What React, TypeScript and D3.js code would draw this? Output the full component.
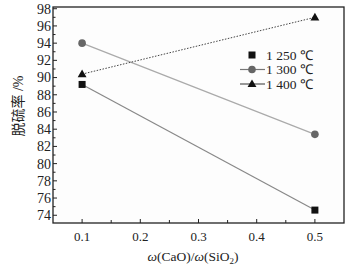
import React from "react";
import * as d3 from "d3";

const xValues = [0.1, 0.5];
const s1250 = [89.2, 74.6];
const s1300 = [94.0, 83.4];
const s1400 = [90.4, 97.0];
const seriesNames = ["1 250 ℃", "1 300 ℃", "1 400 ℃"];
const yMajorTicks = [74, 76, 78, 80, 82, 84, 86, 88, 90, 92, 94, 96, 98];
const yMinorTicks = [75, 77, 79, 81, 83, 85, 87, 89, 91, 93, 95, 97];
const xMajorTicks = [0.1, 0.2, 0.3, 0.4, 0.5];
const xMinorTicks = [0.15, 0.25, 0.35, 0.45];

const W = 349, H = 267;
const L = 53, R = 344, T = 7, B = 223;

const serif = { fontFamily: '"Liberation Serif", Tinos, "Times New Roman", Times, serif' };

export default function App() {
  const x = d3.scaleLinear().domain([0.05, 0.55]).range([L, R]);
  const y = d3.scaleLinear().domain([73.1, 98.2]).range([B, T]);
  const line = d3.line<number>().x((_, i) => x(xValues[i])).y((d) => y(d));

  const sq = (cx: number, cy: number, k: string) => (
    <rect key={k} x={cx - 3.5} y={cy - 3.5} width={7} height={7} fill="#111" />
  );
  const ci = (cx: number, cy: number, k: string) => (
    <circle key={k} cx={cx} cy={cy} r={3.8} fill="#666" />
  );
  const tri = (cx: number, cy: number, k: string) => (
    <path key={k} d={d3.symbol(d3.symbolTriangle, 34)() || ""} transform={`translate(${cx},${cy + 0.5})`} fill="#111" />
  );

  return (
    <svg width={W} height={H} style={{ position: "absolute", left: 0, top: 0, background: "#fff" }}>
      <rect x={L} y={T} width={R - L} height={B - T} fill="#fdfdfd" stroke="#222" strokeWidth={1.3} />
      {yMajorTicks.map((t) => (
        <g key={"ym" + t}>
          <line x1={L} x2={L + 4} y1={y(t)} y2={y(t)} stroke="#222" strokeWidth={1} />
          <text x={L - 2} y={y(t)} dy="0.35em" textAnchor="end" style={serif} fontSize={14} fill="#222">{t}</text>
        </g>
      ))}
      {yMinorTicks.map((t) => (
        <line key={"yn" + t} x1={L} x2={L + 2.5} y1={y(t)} y2={y(t)} stroke="#222" strokeWidth={1} />
      ))}
      {xMajorTicks.map((t) => (
        <g key={"xm" + t}>
          <line x1={x(t)} x2={x(t)} y1={B} y2={B - 4} stroke="#222" strokeWidth={1} />
          <text x={x(t)} y={236} dy="0.35em" textAnchor="middle" style={serif} fontSize={13} fill="#222">{t.toFixed(1)}</text>
        </g>
      ))}
      {xMinorTicks.map((t) => (
        <line key={"xn" + t} x1={x(t)} x2={x(t)} y1={B} y2={B - 3} stroke="#222" strokeWidth={1} />
      ))}
      <path d={line(s1250) || ""} fill="none" stroke="#888" strokeWidth={1.2} />
      <path d={line(s1300) || ""} fill="none" stroke="#aaa" strokeWidth={1.2} />
      <path d={line(s1400) || ""} fill="none" stroke="#444" strokeWidth={1} strokeDasharray="1.5,1.5" />
      {s1250.map((v, i) => sq(x(xValues[i]), y(v), "a" + i))}
      {s1300.map((v, i) => ci(x(xValues[i]), y(v), "b" + i))}
      {s1400.map((v, i) => tri(x(xValues[i]), y(v), "c" + i))}
      {sq(252, 55, "la")}
      <line x1={240} x2={265} y1={69.5} y2={69.5} stroke="#777" strokeWidth={1.2} />
      {ci(252, 69.5, "lb")}
      <line x1={240} x2={265} y1={84} y2={84} stroke="#555" strokeWidth={1.2} />
      {tri(252, 84, "lc")}
      {seriesNames.map((n, i) => (
        <text key={n} x={266} y={55 + i * 14.5} dy="0.35em" style={serif} fontSize={13.5} fill="#222">{n}</text>
      ))}
      <text x={193} y={256} dy="0.35em" textAnchor="middle" style={serif} fontSize={13.5} fill="#222">
        <tspan fontStyle="italic">ω</tspan>(CaO)/<tspan fontStyle="italic">ω</tspan>(SiO<tspan fontSize={9} dy="3">2</tspan><tspan dy="-3">)</tspan>
      </text>
      <text transform={`translate(18,106) rotate(-90)`} textAnchor="middle" dy="0.35em" style={serif} fontSize={14} fill="#222">
        <tspan style={{ fontFamily: '"Noto Sans CJK SC", sans-serif' }} fontSize={14}>脱硫率</tspan> /%
      </text>
    </svg>
  );
}
